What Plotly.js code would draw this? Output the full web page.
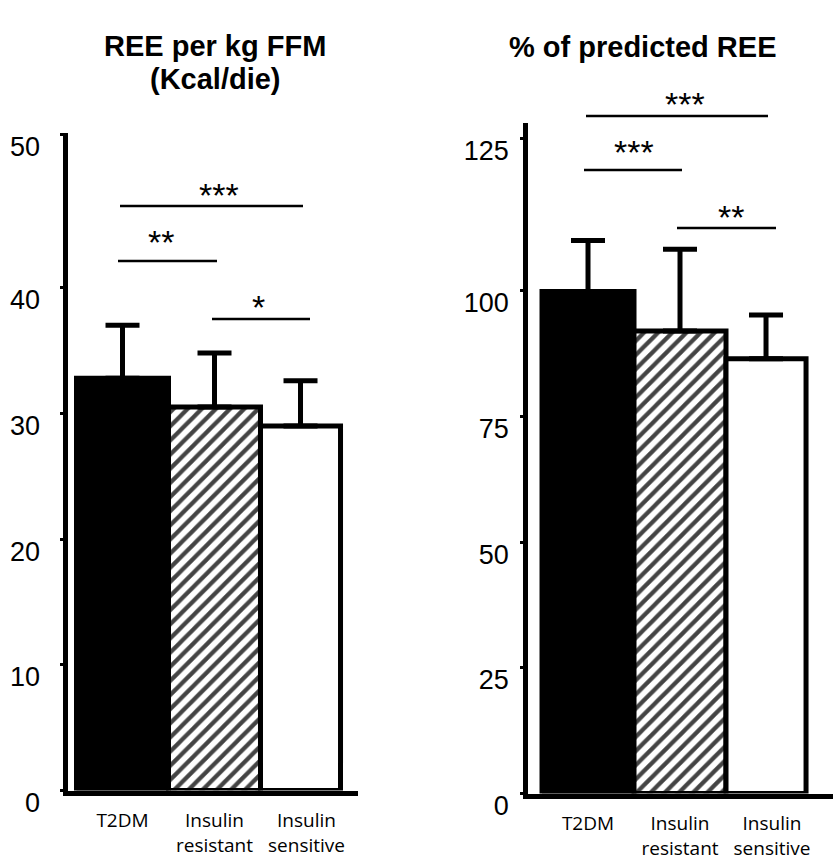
<!DOCTYPE html>
<html>
<head>
<meta charset="utf-8">
<script src="https://cdn.plot.ly/plotly-3.0.1.min.js"></script>
<style>html,body{margin:0;padding:0;background:#fff;}#chart{width:833px;height:861px;}</style>
</head>
<body>
<div id="chart"></div>
<script>
// ---- data ----
var categories = ['T2DM', 'Insulin<br>resistant', 'Insulin<br>sensitive'];
var reeFfmMean = [32.8, 30.5, 29.0];
var reeFfmSd = [4.2, 4.3, 3.6];
var predMean = [99.9, 92.0, 86.5];
var predSd = [10.1, 16.3, 8.7];
var leftTickVals = [0, 10, 20, 30, 40, 52.2];
var leftTickText = ['0', '10', '20', '30', '40', '50'];
var rightTickVals = [0, 25, 50, 75, 100, 130.4];
var rightTickText = ['0', '25', '50', '75', '100', '125'];
var leftTitle = ['REE per kg FFM', '(Kcal/die)'];
var rightTitle = '% of predicted REE';
// significance brackets: [fromPx, toPx, yPx, label, textX, textY]
var leftSig = [[120, 303, 206, '***', 219, 188], [118, 217, 261, '**', 161, 235], [212, 310, 319, '*', 258, 300]];
var rightSig = [[586, 768, 116, '***', 685, 97], [584, 682, 170, '***', 634, 145], [677, 776, 228, '**', 731, 210]];

var W = 833, H = 861;
function px(x) { return x / W; }
function py(y) { return 1 - y / H; }

var barStyle = {
  color: ['#000000', '#ffffff', '#ffffff'],
  line: { color: '#000000', width: 5 },
  pattern: { shape: ['', '/', ''], fgcolor: '#000000', fgopacity: 1, size: 10, solidity: 0.42, fillmode: 'overlay' }
};
var widths = [1, 1, 0.87];
var offsets = [-0.5, -0.5, -0.5];

var traces = [
  {
    type: 'bar', x: categories, y: reeFfmMean, xaxis: 'x', yaxis: 'y',
    width: widths, offset: offsets, marker: barStyle,
    error_y: { type: 'data', array: reeFfmSd, arrayminus: [0, 0, 0], symmetric: false, color: '#000', thickness: 5, width: 17 },
    hoverinfo: 'skip', showlegend: false
  },
  {
    type: 'bar', x: categories, y: predMean, xaxis: 'x2', yaxis: 'y2',
    width: widths, offset: offsets, marker: barStyle,
    error_y: { type: 'data', array: predSd, arrayminus: [0, 0, 0], symmetric: false, color: '#000', thickness: 5, width: 17 },
    hoverinfo: 'skip', showlegend: false
  }
];

var shapes = [];
var annotations = [];
function addSig(list) {
  list.forEach(function (s) {
    shapes.push({ type: 'line', xref: 'paper', yref: 'paper', x0: px(s[0]), x1: px(s[1]), y0: py(s[2]), y1: py(s[2]), line: { color: '#000', width: 2.5 } });
    annotations.push({ xref: 'paper', yref: 'paper', x: px(s[4]), y: py(s[5] + 7), text: s[3], showarrow: false, xanchor: 'center', yanchor: 'middle', font: { family: 'Liberation Sans, Arial, sans-serif', size: 34, color: '#000' } });
  });
}
addSig(leftSig);
addSig(rightSig);

var titleFont = { family: 'Liberation Sans, Arial, sans-serif', size: 29, color: '#000', weight: 'bold' };
annotations.push({ xref: 'paper', yref: 'paper', x: px(215), y: py(46), text: '<b>' + leftTitle[0] + '</b>', showarrow: false, xanchor: 'center', yanchor: 'middle', font: titleFont });
annotations.push({ xref: 'paper', yref: 'paper', x: px(215), y: py(79), text: '<b>' + leftTitle[1] + '</b>', showarrow: false, xanchor: 'center', yanchor: 'middle', font: titleFont });
annotations.push({ xref: 'paper', yref: 'paper', x: px(643), y: py(47), text: '<b>' + rightTitle + '</b>', showarrow: false, xanchor: 'center', yanchor: 'middle', font: titleFont });

var tickFont = { family: 'Liberation Sans, Arial, sans-serif', size: 27, color: '#000' };
var catFont = { family: 'Open Sans, Lato, sans-serif', size: 19, color: '#000' };

function xAxis(domain, range) {
  return {
    domain: domain, range: range, type: 'category', showline: true, linewidth: 5, linecolor: '#000',
    showgrid: false, zeroline: false, ticks: '', tickfont: catFont, ticklabelstandoff: 9, fixedrange: true
  };
}
function yAxis(domain, range, anchor, vals, text, standoff) {
  return {
    domain: domain, range: range, anchor: anchor, showline: true, linewidth: 5, linecolor: '#000',
    showgrid: false, zeroline: false, ticks: 'outside', ticklen: 3, tickwidth: 3, tickcolor: '#000',
    tickmode: 'array', tickvals: vals, ticktext: text, tickfont: tickFont,
    ticklabelshift: 12, ticklabelstandoff: standoff, fixedrange: true
  };
}

var layout = {
  width: W, height: H,
  margin: { l: 0, r: 0, t: 0, b: 0, pad: 0 },
  paper_bgcolor: '#fff', plot_bgcolor: 'rgba(0,0,0,0)',
  bargap: 0,
  xaxis: Object.assign(xAxis([67.5 / W, 358 / W], [-0.598, 2.56]), { anchor: 'y' }),
  yaxis: yAxis([1 - 790.5 / H, 1 - 133 / H], [0, 52.3], 'x', leftTickVals, leftTickText, 14),
  xaxis2: Object.assign(xAxis([528.3 / W, 1], [-0.649, 2.663]), { anchor: 'y2' }),
  yaxis2: yAxis([1 - 793.5 / H, 1 - 123 / H], [0, 133.4], 'x2', rightTickVals, rightTickText, 6),
  shapes: shapes,
  annotations: annotations
};

Plotly.newPlot('chart', traces, layout, { displayModeBar: false, staticPlot: true });
</script>
</body>
</html>
